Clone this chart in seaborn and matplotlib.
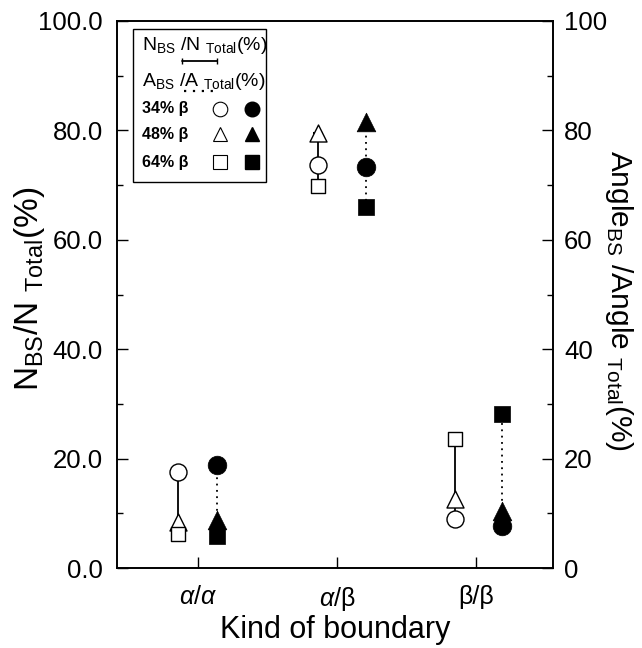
import numpy as np
import pandas as pd
import matplotlib
matplotlib.use("Agg")
import matplotlib.pyplot as plt
import seaborn as sns
from matplotlib.patches import Rectangle
from matplotlib.ticker import MultipleLocator

# Data
boundaries = ["α/α", "α/β", "β/β"]
tick_text = [r"$\alpha$/$\alpha$", r"$\alpha$/β", "β/β"]
beta_labels = ["34% β", "48% β", "64% β"]
markers = ["o", "^", "s"]
# N_BS / N_Total (%) -> open markers, left axis
n_frac = {"34% β": [17.5, 73.6, 9.0],
          "48% β": [8.5, 79.6, 12.6],
          "64% β": [6.3, 69.8, 23.6]}
# Angle_BS / Angle_Total (%) -> filled markers, right axis
a_frac = {"34% β": [18.8, 73.3, 7.6],
          "48% β": [8.8, 81.6, 10.4],
          "64% β": [5.8, 66.0, 28.2]}
open_shift = [-0.145, -0.14, -0.15]
fill_shift = [0.135, 0.21, 0.19]

sns.set_style("ticks")
plt.rcParams['font.family'] = ['Liberation Sans', 'DejaVu Sans']
plt.rcParams['mathtext.fontset'] = 'custom'
plt.rcParams['mathtext.rm'] = 'Liberation Sans'
plt.rcParams['mathtext.it'] = 'Liberation Sans:italic'
for key in ['text.color', 'axes.labelcolor', 'xtick.color', 'ytick.color', 'axes.edgecolor']:
    plt.rcParams[key] = 'black'

fig = plt.figure(figsize=(6.42, 6.48), dpi=100)
ax = fig.add_axes([117 / 642, 80 / 648, 436 / 642, 547 / 648])
ax2 = ax.twinx()

pos = np.arange(1, 4)
x_open = pos + np.array(open_shift)
x_fill = pos + np.array(fill_shift)

# connecting lines (range) for each boundary
n_tab = pd.DataFrame(n_frac, index=boundaries)
a_tab = pd.DataFrame(a_frac, index=boundaries)
for i, b in enumerate(boundaries):
    lo, hi = n_tab.loc[b].min(), n_tab.loc[b].max()
    ax.plot([x_open[i], x_open[i]], [lo, hi], color="black", lw=1.3, zorder=1)
    ax.plot([x_open[i]] * 2, [lo, hi], ls="none", marker="_", ms=7, mew=1.5, color="black", zorder=1)
    lo, hi = a_tab.loc[b].min(), a_tab.loc[b].max()
    ax2.plot([x_fill[i], x_fill[i]], [lo, hi], color="black", lw=1.3, ls=(0, (1, 2.5)), zorder=1)

for lab, m in zip(beta_labels, markers):
    sns.scatterplot(x=x_open, y=n_frac[lab], marker=m, s=150 if m != "s" else 110,
                    facecolor="white", edgecolor="black", linewidth=1.0, ax=ax, zorder=3)
    sns.scatterplot(x=x_fill, y=a_frac[lab], marker=m, s=180 if m != "s" else 140,
                    color="black", edgecolor="black", linewidth=0.5, ax=ax2, zorder=3)

for a in (ax, ax2):
    a.set_xlim(0.417, 3.554)
    a.set_ylim(0, 100)
ax.set_xticks(pos)
ax.set_xticklabels(tick_text, fontsize=18)
ax.yaxis.set_major_locator(MultipleLocator(20))
ax.yaxis.set_minor_locator(MultipleLocator(10))
ax.set_yticklabels([f"{v:.1f}" for v in ax.get_yticks()], fontsize=18.5)
ax2.yaxis.set_major_locator(MultipleLocator(20))
ax2.yaxis.set_minor_locator(MultipleLocator(10))
ax2.set_yticklabels([f"{v:.0f}" for v in ax2.get_yticks()], fontsize=18.5)
ax.tick_params(axis="both", which="both", direction="in", width=1.0)
ax.tick_params(axis="both", which="major", length=8)
ax.tick_params(axis="y", which="major", pad=10)
ax.tick_params(axis="x", which="major", pad=12)
ax.tick_params(axis="y", which="minor", length=4)
ax2.tick_params(axis="y", which="both", direction="in", width=1.0)
ax2.tick_params(axis="y", which="major", length=8, pad=8)
ax2.tick_params(axis="y", which="minor", length=4)
for a in (ax, ax2):
    for sp in a.spines.values():
        sp.set_visible(True)
        sp.set_linewidth(1.2)

ax.set_xlabel("Kind of boundary", fontsize=22, labelpad=2)
ax.set_ylabel(r"N$_{\rm BS}$/N $_{\rm Total}$(%)", fontsize=24)
ax.yaxis.set_label_coords(-0.16, 0.51)
ax2.set_ylabel(r"Angle$_{\rm BS}$ /Angle $_{\rm Total}$(%)", fontsize=21.5, rotation=270, va="bottom")
ax2.yaxis.set_label_coords(1.115, 0.49)


# custom legend box drawn in axes coordinates
def ac(px, py):
    return ((px - 117) / 436, (568 - py) / 547)


x0, y0 = ac(133, 182)
x1, y1 = ac(266, 29)
ax.add_patch(Rectangle((x0, y0), x1 - x0, y1 - y0, transform=ax.transAxes,
                       facecolor="white", edgecolor="black", lw=1.0, zorder=5))
ax.text(*ac(142, 46), r"N$_{\rm BS}$ /N $_{\rm Total}$(%)", transform=ax.transAxes,
        fontsize=14, va="center", zorder=6)
ax.text(*ac(142, 81), r"A$_{\rm BS}$ /A $_{\rm Total}$(%)", transform=ax.transAxes,
        fontsize=14, va="center", zorder=6)
lx0, ly = ac(182, 61)
lx1, _ = ac(217, 61)
ax.plot([lx0, lx1], [ly, ly], transform=ax.transAxes, color="black", lw=1.3, zorder=6)
ax.plot([lx0, lx1], [ly, ly], transform=ax.transAxes, ls="none", marker="|", ms=4,
        color="black", zorder=6)
lx0, ly = ac(184, 91)
ax.plot([lx0, lx1], [ly, ly], transform=ax.transAxes, color="black", lw=1.6,
        ls=(0, (1, 3)), zorder=6)
for lab, m, py in zip(beta_labels, markers, [109, 134, 162]):
    ax.text(*ac(142, py), lab, transform=ax.transAxes, fontsize=11.5, fontweight="bold",
            va="center", zorder=6)
    ax.plot(*ac(220, py), marker=m, ms=10.5 if m != "s" else 9.5, mfc="white", mec="black",
            mew=0.8, transform=ax.transAxes, zorder=6)
    ax.plot(*ac(252, py), marker=m, ms=10.5 if m != "s" else 9.5, color="black",
            transform=ax.transAxes, zorder=6)

fig.savefig("out.png", dpi=100)
